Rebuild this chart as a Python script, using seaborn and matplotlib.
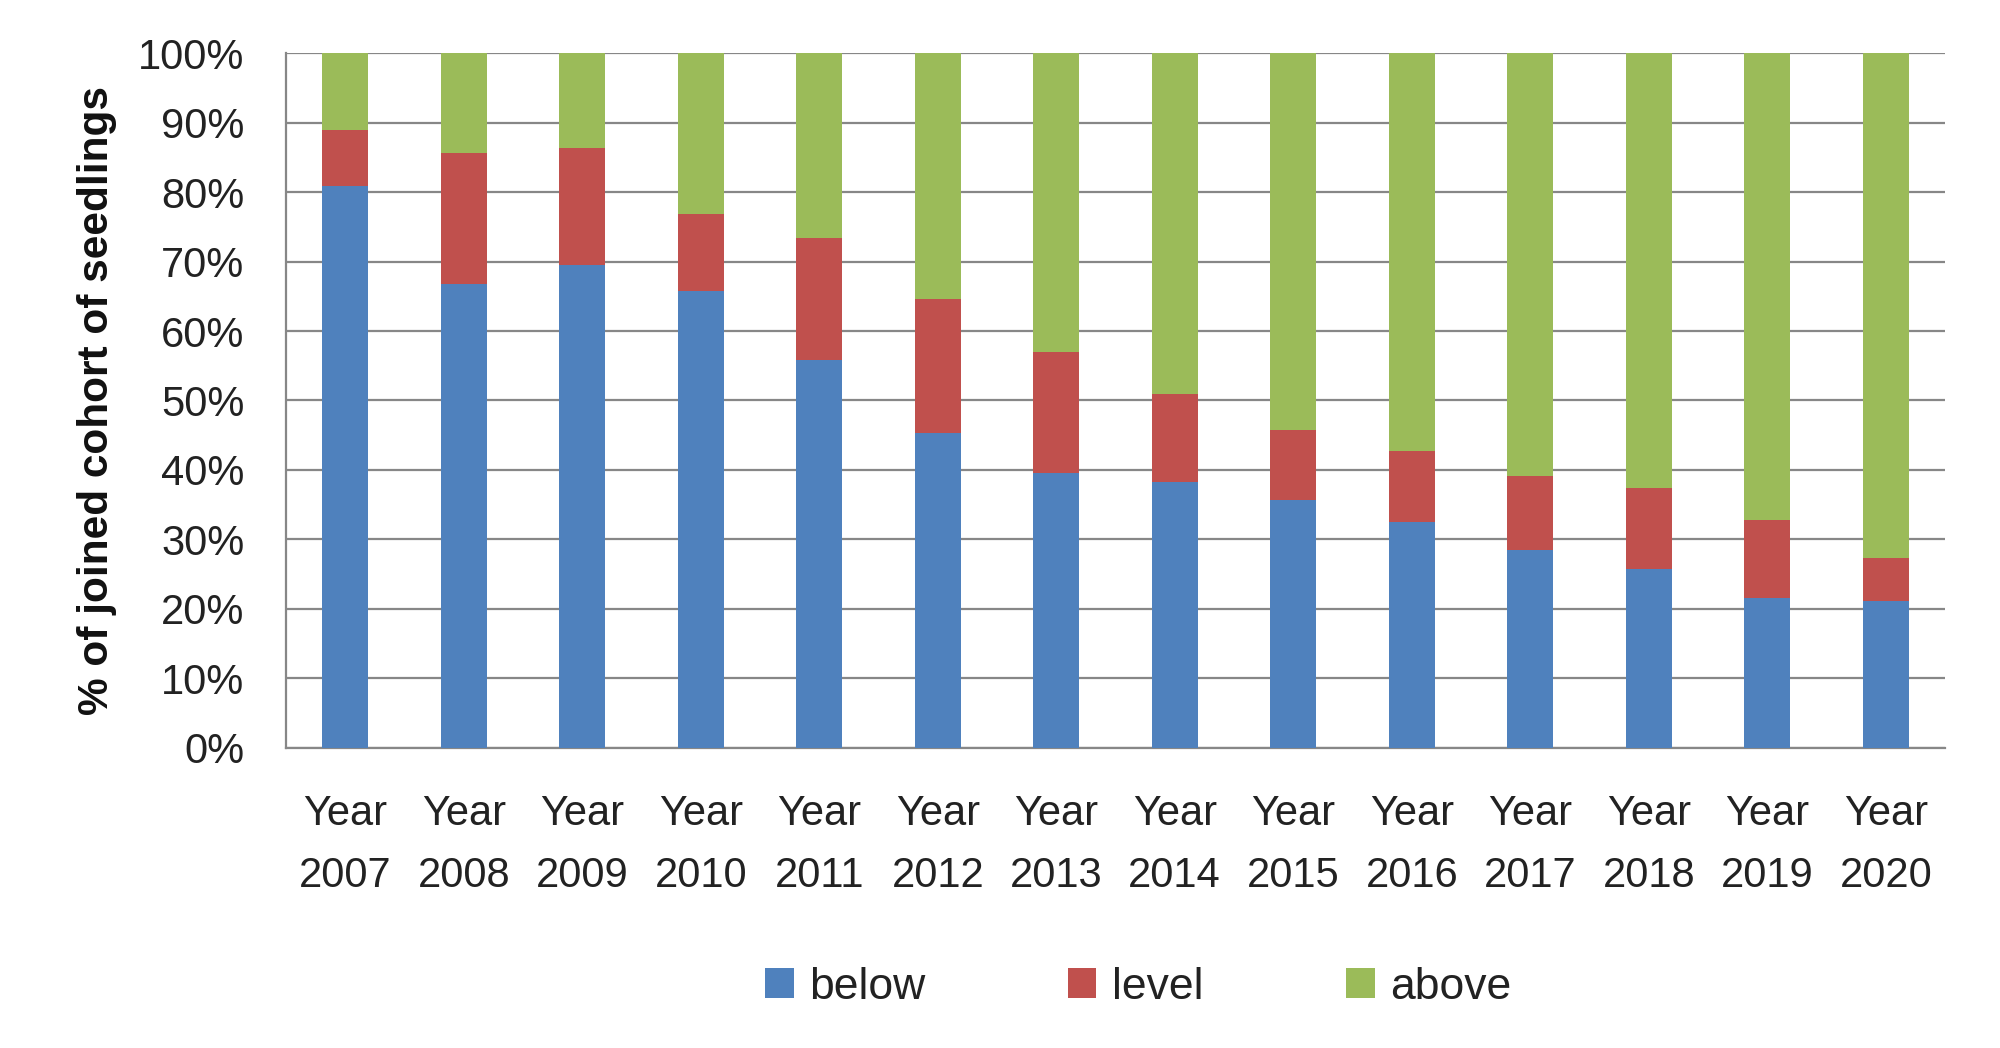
import numpy as np
import pandas as pd
import seaborn as sns
import matplotlib.pyplot as plt
from matplotlib.patches import Patch
from matplotlib.ticker import PercentFormatter, FixedLocator

# Values (percent of joined cohort)
years = ['2007', '2008', '2009', '2010', '2011', '2012', '2013',
         '2014', '2015', '2016', '2017', '2018', '2019', '2020']
below = [80.9, 66.7, 69.5, 65.7, 55.8, 45.3, 39.6, 38.2, 35.7, 32.5, 28.5, 25.7, 21.6, 21.2]
level = [8.0, 18.9, 16.9, 11.1, 17.6, 19.3, 17.4, 12.7, 10.0, 10.3, 10.6, 11.7, 11.2, 6.2]
above = [11.1, 14.4, 13.6, 23.2, 26.6, 35.4, 43.0, 49.1, 54.3, 57.2, 60.9, 62.6, 67.2, 72.6]

colors = {'below': '#4F81BD', 'level': '#C0504D', 'above': '#9BBB59'}
grid_col = '#878787'

df = pd.DataFrame({'year': ['Year\n' + y for y in years],
                   'below': below, 'level': level, 'above': above})
# cumulative tops for stacking
df['top_level'] = df['below'] + df['level']
df['top_above'] = df['top_level'] + df['above']

sns.set_style('white')
plt.rcParams['font.family'] = ['Liberation Sans', 'DejaVu Sans']

fig = plt.figure(figsize=(20, 10.48), dpi=100)
ax = fig.add_axes([0.143, 0.2863, 0.8295, 0.6631])

sns.barplot(data=df, x='year', y='top_above', color=colors['above'], width=0.39,
            saturation=1, ax=ax, zorder=3)
sns.barplot(data=df, x='year', y='top_level', color=colors['level'], width=0.39,
            saturation=1, ax=ax, zorder=3)
sns.barplot(data=df, x='year', y='below', color=colors['below'], width=0.39,
            saturation=1, ax=ax, zorder=3)
for p in ax.patches:
    p.set_edgecolor('none')

ax.set_ylim(0, 100)
ax.set_xlim(-0.5, len(years) - 0.5)
ax.yaxis.set_major_locator(FixedLocator(np.arange(0, 101, 10)))
ax.yaxis.set_major_formatter(PercentFormatter(decimals=0))
ax.grid(axis='y', color=grid_col, linewidth=1.6, zorder=0)
ax.set_axisbelow(True)

for s in ['top', 'right']:
    ax.spines[s].set_visible(False)
for s in ['left', 'bottom']:
    ax.spines[s].set_color(grid_col)
    ax.spines[s].set_linewidth(1.6)

# Excel-like category boundary ticks
ax.set_xticks(np.arange(-0.5, len(years), 1), minor=True)
ax.tick_params(axis='x', which='major', length=0, pad=33, labelsize=30, colors='#222222')
ax.tick_params(axis='x', which='minor', length=13, width=1.6, color=grid_col, direction='out')
ax.tick_params(axis='y', which='major', length=12, width=1.6, color=grid_col, direction='out',
               pad=18, labelsize=30, labelcolor='#222222')
for t in ax.get_xticklabels():
    t.set_linespacing(1.72)

ax.set_xlabel('')
ax.set_ylabel('% of joined cohort of seedlings', fontsize=30.5, fontweight='bold',
              color='#111111')
ax.yaxis.set_label_coords(-0.102, 0.5)

handles = [Patch(facecolor=colors[k], edgecolor='none', label=k)
           for k in ['below', 'level', 'above']]
fig.legend(handles=handles, loc='center', bbox_to_anchor=(0.569, 0.058), ncol=3,
           frameon=False, fontsize=32, handlelength=0.65, handleheight=0.65,
           handletextpad=0.35, columnspacing=3.2, labelcolor='#222222')

fig.savefig('out.png', dpi=100, facecolor='white')
